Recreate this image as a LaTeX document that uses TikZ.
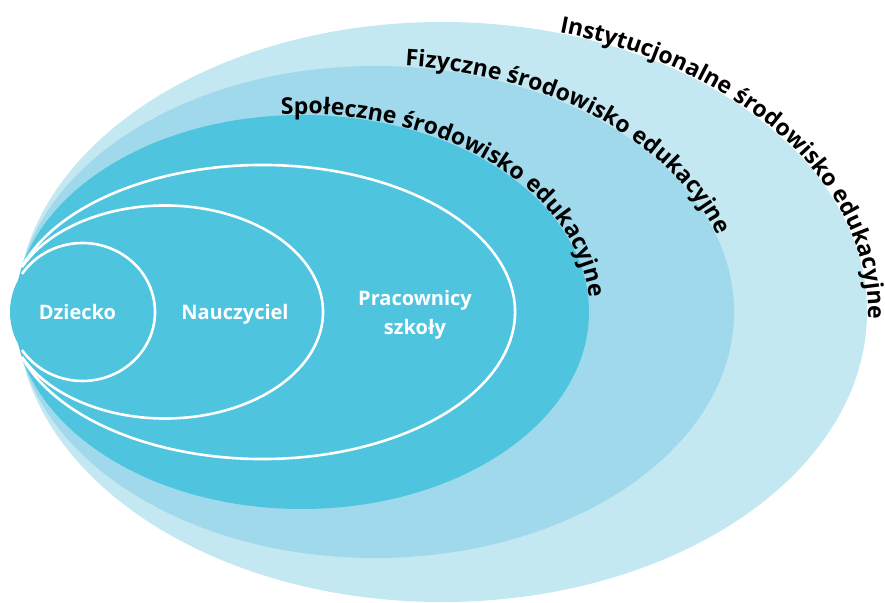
\documentclass[tikz,border=0pt]{standalone}
\usepackage{fontspec}
\setmainfont{Open Sans}
\usetikzlibrary{decorations.text}
\definecolor{ringA}{RGB}{196,232,242}
\definecolor{ringB}{RGB}{160,217,235}
\definecolor{ringC}{RGB}{78,196,223}
\newcommand{\curvefont}{\bfseries\fontsize{23}{28}\selectfont}
\begin{document}
\begin{tikzpicture}[x=1pt,y=1pt,
  ring/.style={draw=white, line width=2.6pt},
  lbl/.style={font=\bfseries\fontsize{20}{29}\selectfont, text=white, align=center},
  curvetext/.style={decorate, decoration={text along path, text align=left,
      raise=1pt, text={|\curvefont|#1}}}]
\useasboundingbox (0,0) rectangle (885,602);

% filled layers, outermost first
\fill[ringA] (441.9,290) ellipse[x radius=425.1, y radius=290];
\fill[ringB] (375,290) ellipse[x radius=359, y radius=246];
\fill[ringC] (301.7,290) ellipse[x radius=287.3, y radius=197];
\fill[ringC] (82.5,290) ellipse[x radius=72.5, y radius=69];

% white outlines, open on the left side
\draw[ring, shift={(262.4,290)}] (162.1:252.6 and 147)
  arc[start angle=162.1, end angle=-162.1, x radius=252.6, y radius=147];
\draw[ring, shift={(165.1,290)}] (155:157.9 and 106.5)
  arc[start angle=155, end angle=-155, x radius=157.9, y radius=106.5];
\draw[ring, shift={(82.5,290)}] (146.5:72.5 and 69)
  arc[start angle=146.5, end angle=-146.5, x radius=72.5, y radius=69];

% labels along the layer edges
\path[curvetext={Instytucjonalne środowisko edukacyjne}, shift={(441.9,290)}]
  (74:425.1 and 290) arc[start angle=74, end angle=-14, x radius=425.1, y radius=290];
\path[curvetext={Fizyczne środowisko edukacyjne}, shift={(375,290)}]
  (85.2:359 and 246) arc[start angle=85.2, end angle=-8, x radius=359, y radius=246];
\path[curvetext={Społeczne środowisko edukacyjne}, shift={(301.7,290)}]
  (94.1:287.3 and 197) arc[start angle=94.1, end angle=-14, x radius=287.3, y radius=197];

% inner labels
\node[lbl, anchor=base] (child) at (77.5,282) {Dziecko};
\node[lbl, anchor=base] (teacher) at (235,282) {Nauczyciel};
\node[lbl, anchor=base] (staff) at (415,267) {Pracownicy\\szkoły};
\end{tikzpicture}
\end{document}
